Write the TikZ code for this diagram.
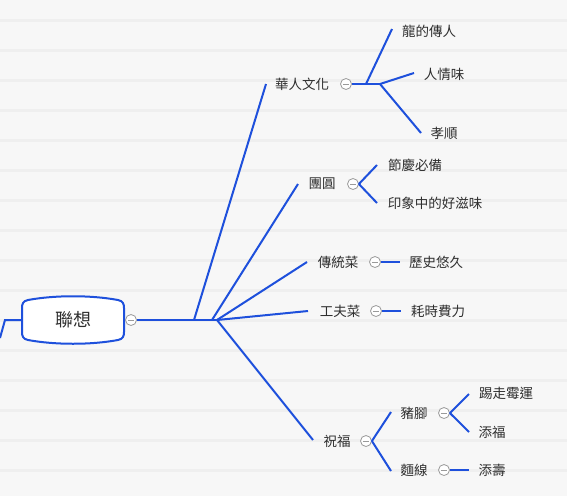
\documentclass[tikz,border=0pt]{standalone}
\usepackage{fontspec}
\setmainfont{Noto Sans CJK TC}
\definecolor{brc}{HTML}{1E50DC}
\definecolor{tx}{HTML}{2E2E2E}
\definecolor{cg}{HTML}{9A9A9A}
\definecolor{bgc}{HTML}{F7F7F7}
\definecolor{stripe}{HTML}{EFEFEF}
\begin{document}
\begin{tikzpicture}[x=1pt,y=-1pt,
  br/.style={draw=brc, line width=2pt},
  lbl/.style={font=\fontsize{13.5}{16}\selectfont, text=tx, inner sep=0pt},
  tog/.style={circle, draw=cg, fill=white, line width=0.8pt, minimum size=11pt, inner sep=0pt,
    path picture={\draw[cg, line width=1pt] ([xshift=-3.2pt]path picture bounding box.center) -- ([xshift=3.2pt]path picture bounding box.center);}}]
\useasboundingbox (0,0) rectangle (567,496);
\fill[bgc] (0,0) rectangle (567,496);
\foreach \y in {20,50,...,490} \fill[stripe] (0,\y-1.5) rectangle (567,\y+1.5);

% root
\draw[brc, line width=2pt, fill=white]
  (28,300) .. controls (55,295) and (91,295) .. (118,300)
  .. controls (123,301) and (124,304) .. (124,308) -- (124,332)
  .. controls (124,336) and (123,339) .. (118,340)
  .. controls (91,345) and (55,345) .. (28,340)
  .. controls (23,339) and (22,336) .. (22,332) -- (22,308)
  .. controls (22,304) and (23,301) .. (28,300) -- cycle;
\node[lbl, font=\fontsize{18}{20}\selectfont] (root) at (73,320) {聯想};
\coordinate (rw) at (22,320);
\coordinate (lb) at (5,320);
\coordinate (le) at (0,338);
\draw[br] (rw) -- (lb) -- (le);

\node[tog] (t0) at (131,320) {};
\coordinate (j1) at (194,320);
\coordinate (j2) at (212,320);
\coordinate (j3) at (217,320);
\draw[br] (t0.east) -- (j3);

% level 1
\node[lbl] (a) at (302,84) {華人文化};
\node[lbl] (b) at (322,184) {團圓};
\node[lbl] (c) at (338,262) {傳統菜};
\node[lbl] (d) at (340,311) {工夫菜};
\node[lbl] (e) at (337,441) {祝福};
\coordinate (ae) at (266,84);
\coordinate (be) at (298,184);
\coordinate (ce) at (307,262);
\coordinate (de) at (308,311);
\coordinate (ee) at (313,440);
\draw[br] (j1) -- (ae);
\draw[br] (j2) -- (be);
\draw[br] (j3) -- (ce);
\draw[br] (j3) -- (de);
\draw[br] (j3) -- (ee);

\node[tog] (ta) at (346,84) {};
\node[tog] (tb) at (353,184) {};
\node[tog] (tc) at (375,262) {};
\node[tog] (td) at (376,311) {};
\node[tog] (te) at (366,441) {};

% 華人文化 children
\node[lbl] (a1) at (429,31) {龍的傳人};
\node[lbl] (a2) at (444,74) {人情味};
\node[lbl] (a3) at (444,133) {孝順};
\coordinate (ja1) at (366,84);
\coordinate (ja2) at (380,84);
\draw[br] (ta.east) -- (ja2);
\draw[br] (ja1) -- (392,29) coordinate (a1e);
\draw[br] (ja2) -- (414,73) coordinate (a2e);
\draw[br] (ja2) -- (421,133) coordinate (a3e);

% 團圓 children
\node[lbl] (b1) at (415,165) {節慶必備};
\node[lbl] (b2) at (435,203) {印象中的好滋味};
\draw[br] (tb.east) -- (377,165) coordinate (b1e);
\draw[br] (tb.east) -- (377,203) coordinate (b2e);

% 傳統菜 / 工夫菜
\node[lbl] (c1) at (436,262) {歷史悠久};
\node[lbl] (d1) at (438,311) {耗時費力};
\draw[br] (tc.east) -- (400,262) coordinate (c1e);
\draw[br] (td.east) -- (401,311) coordinate (d1e);

% 祝福 children
\node[lbl] (e1) at (414,413) {豬腳};
\node[lbl] (e2) at (414,470) {麵線};
\draw[br] (te.east) -- (391,412) coordinate (e1e);
\draw[br] (te.east) -- (391,471) coordinate (e2e);
\node[tog] (te1) at (444,413) {};
\node[tog] (te2) at (444,470) {};
\node[lbl] (e11) at (506,393) {踢走霉運};
\node[lbl] (e12) at (492,432) {添福};
\node[lbl] (e21) at (492,470) {添壽};
\draw[br] (te1.east) -- (469,394) coordinate (e11e);
\draw[br] (te1.east) -- (469,432) coordinate (e12e);
\draw[br] (te2.east) -- (469,470) coordinate (e21e);
\end{tikzpicture}
\end{document}
